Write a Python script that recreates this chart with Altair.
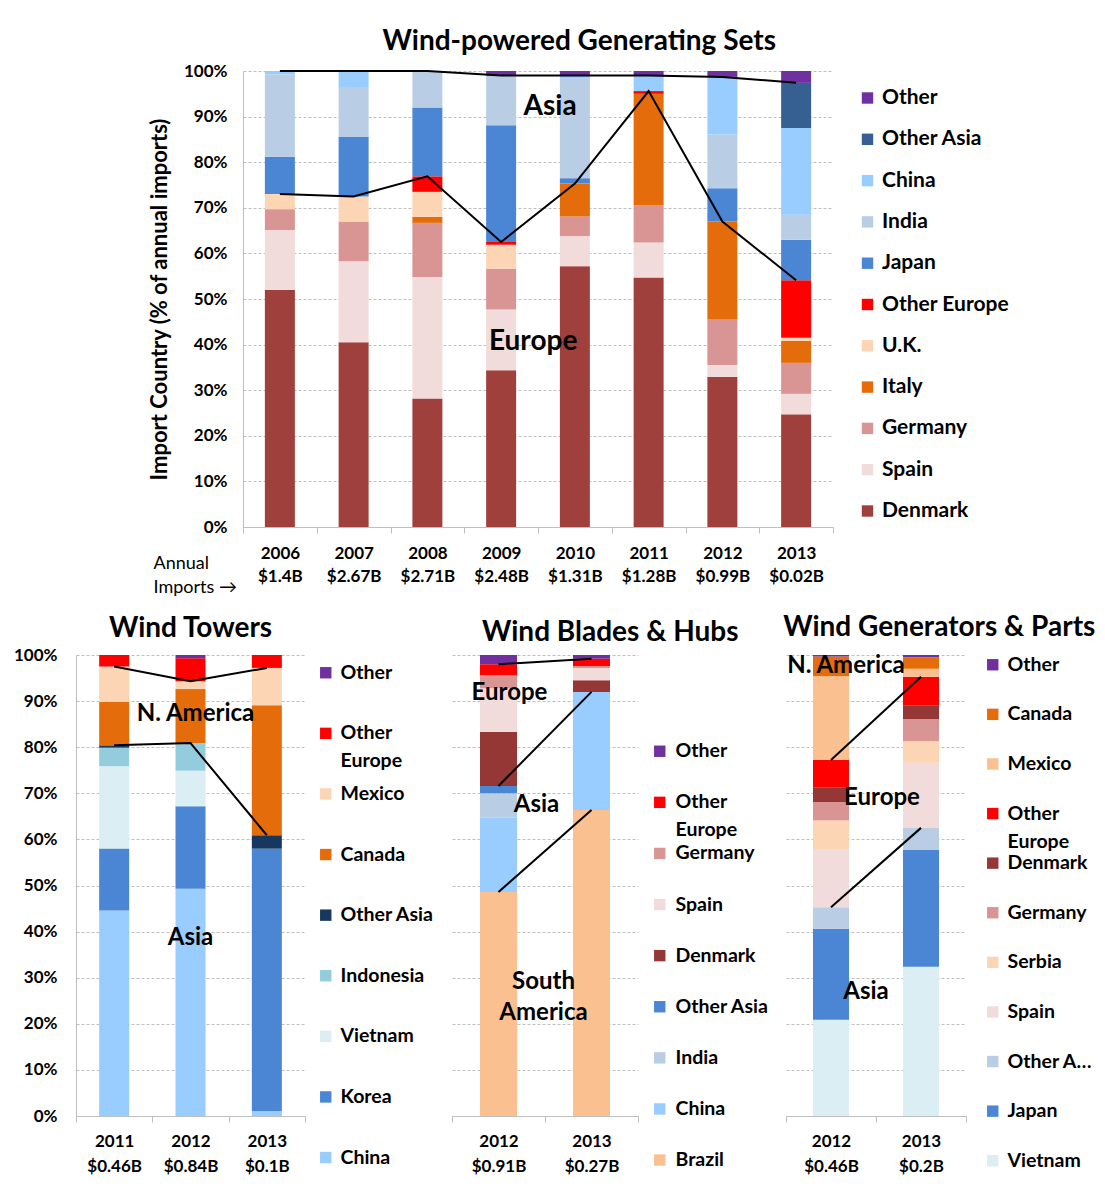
import altair as alt
import pandas as pd

FONT = "Lato"
GRID = "#BFBFBF"

# ---------------- Wind-powered Generating Sets ----------------
gs_years = ["2006", "2007", "2008", "2009", "2010", "2011", "2012", "2013"]
gs_imports = ["$1.4B", "$2.67B", "$2.71B", "$2.48B", "$1.31B", "$1.28B", "$0.99B", "$0.02B"]
gs_countries = ["Denmark", "Spain", "Germany", "Italy", "U.K.", "Other Europe",
                "Japan", "India", "China", "Other Asia", "Other"]
gs_colors = ["#A0403D", "#F2DCDB", "#D99594", "#E46C0A", "#FCD5B5", "#FF0000",
             "#4A86D4", "#B9CDE5", "#99CCFF", "#366092", "#7030A0"]
gs_values = {
    "Denmark":      [52.0, 40.5, 28.2, 34.4, 57.2, 54.7, 32.9, 24.7],
    "Spain":        [13.1, 17.8, 26.6, 13.3, 6.6, 7.7, 2.6, 4.5],
    "Germany":      [4.6, 8.7, 11.9, 8.9, 4.3, 8.1, 10.1, 6.8],
    "Italy":        [0.0, 0.0, 1.3, 0.0, 7.2, 24.5, 21.4, 4.8],
    "U.K.":         [3.3, 5.5, 5.5, 5.3, 0.0, 0.0, 0.0, 0.7],
    "Other Europe": [0.0, 0.0, 3.4, 0.6, 0.0, 0.6, 0.0, 12.6],
    "Japan":        [8.2, 13.0, 15.1, 25.6, 1.2, 0.0, 7.3, 8.9],
    "India":        [18.1, 10.8, 8.0, 10.9, 21.8, 0.0, 11.8, 5.5],
    "China":        [0.7, 3.7, 0.0, 0.0, 0.7, 3.4, 12.6, 19.0],
    "Other Asia":   [0.0, 0.0, 0.0, 0.0, 0.0, 0.0, 0.0, 9.9],
    "Other":        [0.0, 0.0, 0.0, 1.0, 1.0, 1.0, 1.3, 2.6],
}
gs_boundaries = ["Other Europe", "Other Asia"]   # black lines sit on top of these
gs_labels = [("Asia", "2009", 92.1, 49), ("Europe", "2009", 40.6, 32)]

# ---------------- Wind Towers ----------------
wt_years = ["2011", "2012", "2013"]
wt_imports = ["$0.46B", "$0.84B", "$0.1B"]
wt_countries = ["China", "Korea", "Vietnam", "Indonesia", "Other Asia",
                "Canada", "Mexico", "Other Europe", "Other"]
wt_colors = ["#99CCFF", "#4A86D4", "#DAEEF3", "#93CDDD", "#17375E",
             "#E46C0A", "#FCD5B5", "#FF0000", "#7030A0"]
wt_values = {
    "China":        [44.6, 49.3, 1.1],
    "Korea":        [13.4, 17.9, 56.9],
    "Vietnam":      [17.9, 7.7, 0.0],
    "Indonesia":    [4.0, 6.0, 0.0],
    "Other Asia":   [0.5, 0.0, 2.9],
    "Canada":       [9.4, 11.7, 28.2],
    "Mexico":       [7.7, 1.7, 8.1],
    "Other Europe": [2.5, 5.0, 2.8],
    "Other":        [0.0, 0.7, 0.0],
}
wt_boundaries = ["Other Asia", "Mexico"]
wt_labels = [("N. America", "2012", 87.2, 5), ("Asia", "2012", 38.6, 0)]

# ---------------- Wind Blades & Hubs ----------------
wb_years = ["2012", "2013"]
wb_imports = ["$0.91B", "$0.27B"]
wb_countries = ["Brazil", "China", "India", "Other Asia", "Denmark",
                "Spain", "Germany", "Other Europe", "Other"]
wb_colors = ["#FAC090", "#99CCFF", "#B9CDE5", "#4A86D4", "#953735",
             "#F2DCDB", "#D99594", "#FF0000", "#7030A0"]
wb_values = {
    "Brazil":       [48.6, 66.4],
    "China":        [16.1, 25.6],
    "India":        [5.3, 0.0],
    "Other Asia":   [1.6, 0.0],
    "Denmark":      [11.7, 2.5],
    "Spain":        [9.5, 2.7],
    "Germany":      [2.8, 0.4],
    "Other Europe": [2.4, 1.6],
    "Other":        [2.0, 0.8],
}
wb_boundaries = ["Brazil", "Other Asia", "Other Europe"]
wb_labels = [("Europe", "2012", 91.8, 11), ("Asia", "2012", 67.5, 38),
             ("South", "2012", 29.1, 45), ("America", "2012", 22.3, 45)]

# ---------------- Wind Generators & Parts ----------------
wg_years = ["2012", "2013"]
wg_imports = ["$0.46B", "$0.2B"]
wg_countries = ["Vietnam", "Japan", "Other Asia", "Spain", "Serbia", "Germany",
                "Denmark", "Other Europe", "Mexico", "Canada", "Other"]
wg_colors = ["#DAEEF3", "#4A86D4", "#B9CDE5", "#F2DCDB", "#FCD5B5", "#D99594",
             "#953735", "#FF0000", "#FAC090", "#E46C0A", "#7030A0"]
wg_values = {
    "Vietnam":      [20.9, 32.4],
    "Japan":        [19.7, 25.3],
    "Other Asia":   [4.7, 4.8],
    "Spain":        [12.6, 14.1],
    "Serbia":       [6.2, 4.7],
    "Germany":      [4.0, 4.8],
    "Denmark":      [3.2, 2.9],
    "Other Europe": [5.9, 6.3],
    "Mexico":       [18.2, 1.7],
    "Canada":       [4.3, 2.5],
    "Other":        [0.3, 0.5],
}
wg_boundaries = ["Other Asia", "Other Europe"]
wg_labels = [("N. America", "2012", 97.6, 15), ("Europe", "2012", 69.0, 51),
             ("Asia", "2012", 26.9, 35)]

WRAP = "datum.label == 'Other Europe' ? ['Other', 'Europe'] : datum.label"


def panel(years, imports, countries, colors, values, boundaries, labels,
          width, height, bar_size, legend, yaxis, xaxis, title_params, label_size):
    xs = [f"{y}|{m}" for y, m in zip(years, imports)]
    xmap = dict(zip(years, xs))
    bars = pd.DataFrame([
        {"x": xs[j], "country": c, "v": values[c][j], "k": k}
        for k, c in enumerate(countries) for j in range(len(xs))
    ])
    lines = pd.DataFrame([
        {"x": xs[j], "b": bname,
         "v": sum(values[c][j] for c in countries[:countries.index(bname) + 1])}
        for bname in boundaries for j in range(len(xs))
    ])
    xenc = alt.X("x:N", sort=xs, scale=alt.Scale(paddingInner=0, paddingOuter=0),
                 axis=xaxis)
    yscale = alt.Scale(domain=[0, 100], nice=False)
    bar = alt.Chart(bars).mark_bar(size=bar_size).encode(
        x=xenc,
        y=alt.Y("v:Q", stack="zero", scale=yscale, axis=yaxis),
        color=alt.Color("country:N",
                        scale=alt.Scale(domain=countries[::-1], range=colors[::-1]),
                        legend=legend),
        order=alt.Order("k:Q", sort="ascending"),
    )
    line = alt.Chart(lines).mark_line(color="black", strokeWidth=2).encode(
        x=xenc, y=alt.Y("v:Q", scale=yscale, axis=yaxis), detail="b:N")
    texts = [
        alt.Chart(pd.DataFrame([{"x": xmap[yr], "v": v, "t": t}])).mark_text(
            font=FONT, fontWeight="bold", fontSize=label_size, dx=dx, color="black"
        ).encode(x=xenc, y=alt.Y("v:Q", scale=yscale, axis=yaxis), text="t:N")
        for (t, yr, v, dx) in labels
    ]
    return alt.layer(bar, line, *texts).properties(
        width=width, height=height, title=title_params)


def yax(show_labels, domain, title=None, pad=16):
    return alt.Axis(
        values=list(range(0, 101, 10)), labelExpr="datum.value + '%'",
        labels=show_labels, domain=domain, domainColor=GRID, ticks=False, tickSize=0,
        grid=True, gridColor=GRID, gridDash=[3, 2], labelFontSize=17,
        labelFontWeight="bold", labelColor="black", labelFont=FONT, labelPadding=pad,
        title=title, titleFontSize=22, titleFontWeight="bold", titleFont=FONT,
        titleColor="black", titlePadding=12,
    )


def xax(line_height, pad, **kw):
    return alt.Axis(
        labelExpr="split(datum.label, '|')", labelAngle=0, labelFontSize=17,
        labelFontWeight="bold", labelFont=FONT, labelColor="black",
        labelLineHeight=line_height, labelPadding=pad, tickBand="extent", tickSize=6,
        tickColor=GRID, domainColor=GRID, grid=False, **kw,
    )


def leg(x, y, row_pad, size, expr=None, grid_align="each", limit=300, offset=7):
    kw = dict(title=None, orient="none", legendX=x, legendY=y, symbolType="square",
              symbolSize=130, symbolStrokeWidth=0, labelFontSize=size, labelFont=FONT,
              labelFontWeight="bold", labelColor="black", rowPadding=row_pad,
              labelOffset=offset, labelLimit=limit, gridAlign=grid_align)
    if expr:
        kw["labelExpr"] = expr
    return alt.Legend(**kw)


def ttl(text, frame, offset):
    return alt.TitleParams(text=text, font=FONT, fontSize=28, fontWeight="bold",
                           color="black", anchor="middle", frame=frame, offset=offset)


top = panel(
    gs_years, gs_imports, gs_countries, gs_colors,
    gs_values, gs_boundaries, gs_labels, 590, 456, 30,
    leg(614, 16.5, 19.3, 21, offset=4),
    yax(True, True, "Import Country (% of annual imports)"),
    xax(23, 12, title=["Annual", "Imports \u2192"], titleX=-90, titleY=27,
        titleAlign="left", titleBaseline="top", titleFontSize=18,
        titleFontWeight="normal", titleFont=FONT, titleColor="black",
        titleLineHeight=24),
    ttl("Wind-powered Generating Sets", "bounds", 6), 28,
)

towers = panel(
    wt_years, wt_imports, wt_countries, wt_colors, wt_values,
    wt_boundaries, wt_labels, 229, 461, 30,
    leg(240, 8, 11.6, 19.5, WRAP, "all", offset=5),
    yax(True, True, pad=19), xax(25, 11, title=None),
    ttl("Wind Towers", "group", 3), 24,
)

blades = panel(
    wb_years, wb_imports, wb_countries, wb_colors, wb_values,
    wb_boundaries, wb_labels, 186, 461, 37,
    leg(198, 86.5, 2.1, 19.5, WRAP, "all", offset=6),
    yax(False, False), xax(25, 11, title=None),
    ttl("Wind Blades & Hubs", "bounds", 8), 24,
)

gens = panel(
    wg_years, wg_imports, wg_countries, wg_colors, wg_values,
    wg_boundaries, wg_labels, 180, 461, 36,
    leg(197, 0, 0.6, 19.5, WRAP, "all", 90, offset=5),
    yax(False, False), xax(25, 11, title=None),
    ttl("Wind Generators & Parts", "bounds", 12), 24,
)


def spacer(w):
    return alt.Chart(pd.DataFrame({"a": [0]})).mark_point(opacity=0).properties(
        width=w, height=10)


top_row = alt.hconcat(spacer(72), top, spacing=0).resolve_scale(color="independent")
bottom_row = alt.hconcat(towers, spacer(17), blades, spacer(14), gens,
                         spacing=0).resolve_scale(color="independent")

chart = alt.vconcat(top_row, bottom_row, spacing=18).resolve_scale(
    color="independent"
).properties(
    padding={"left": 5, "top": 20, "right": 0, "bottom": 5}
).configure(
    font=FONT, style={"guide-label": {"lineHeight": 28}}
).configure_view(stroke=None)

chart.save("out.html", embed_options={"renderer": "svg", "actions": False})
